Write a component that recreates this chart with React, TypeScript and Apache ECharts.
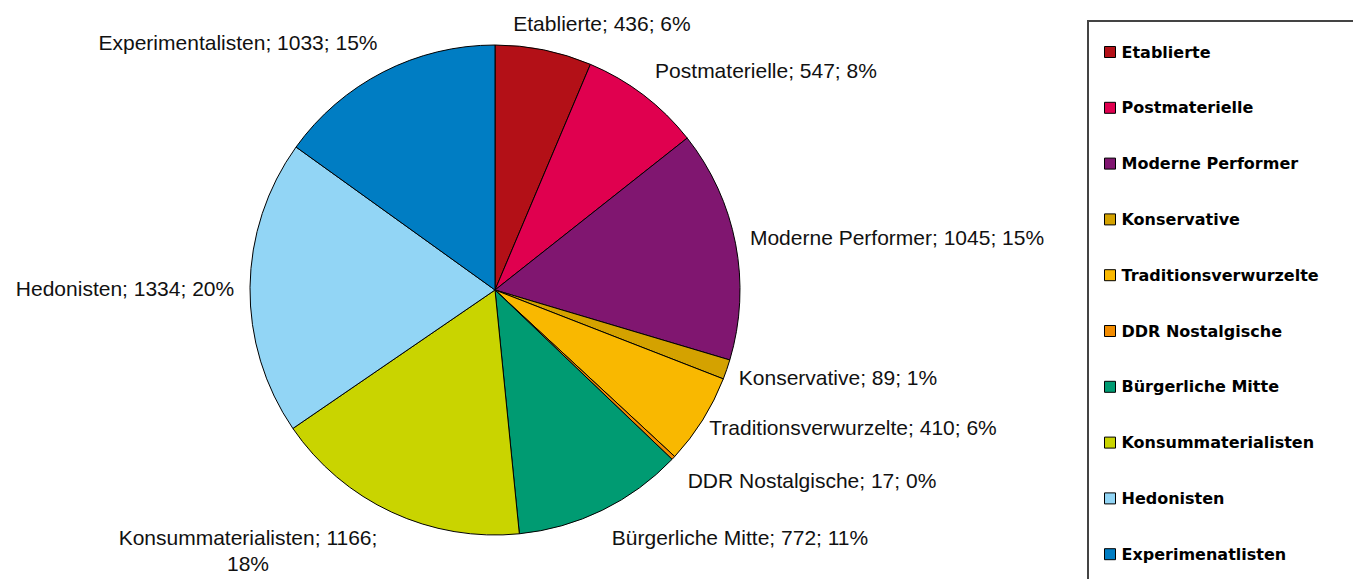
import React, { useEffect, useRef } from "react";
import * as echarts from "echarts";

const CATEGORIES = [
  "Etablierte",
  "Postmaterielle",
  "Moderne Performer",
  "Konservative",
  "Traditionsverwurzelte",
  "DDR Nostalgische",
  "Bürgerliche Mitte",
  "Konsummaterialisten",
  "Hedonisten",
  "Experimentalisten",
];
const LEGEND_NAMES = [
  "Etablierte",
  "Postmaterielle",
  "Moderne Performer",
  "Konservative",
  "Traditionsverwurzelte",
  "DDR Nostalgische",
  "Bürgerliche Mitte",
  "Konsummaterialisten",
  "Hedonisten",
  "Experimenatlisten",
];
const VALUES = [436, 547, 1045, 89, 410, 17, 772, 1166, 1334, 1033];
const PERCENTS = ["6%", "8%", "15%", "1%", "6%", "0%", "11%", "18%", "20%", "15%"];
const COLORS = [
  "#B31017",
  "#E0004F",
  "#801670",
  "#D4A200",
  "#F9B800",
  "#F28C00",
  "#009B72",
  "#C9D400",
  "#92D5F5",
  "#007DC3",
];
// label centre positions (px) and wrapping
const LABEL_CENTERS: number[][] = [
  [602, 23],
  [766, 70],
  [897, 237],
  [838, 377],
  [853, 427],
  [812, 480],
  [740, 537],
  [248, 550],
  [125, 288],
  [238, 42],
];
const LABEL_WRAP = [false, false, false, false, false, false, false, true, false, false];

export default function App() {
  const ref = useRef<HTMLDivElement>(null);
  useEffect(() => {
    if (!ref.current) return;
    const chart = echarts.init(ref.current, undefined, { renderer: "svg" });
    chart.setOption({
      animation: false,
      backgroundColor: "#ffffff",
      legend: {
        orient: "vertical",
        left: 1104,
        top: 44,
        height: 560,
        padding: 0,
        itemWidth: 11,
        itemHeight: 11,
        itemGap: 39.8,
        icon: "rect",
        selectedMode: false,
        itemStyle: { borderColor: "#000", borderWidth: 1 },
        textStyle: {
          fontFamily: "DejaVu Sans",
          fontWeight: "bold",
          fontSize: 16,
          color: "#000",
          padding: [0, 0, 0, 1],
        },
      },
      graphic: [
        {
          type: "rect",
          shape: { x: 1088, y: 21, width: 400, height: 700 },
          style: { fill: "none", stroke: "#444", lineWidth: 2 },
          silent: true,
        },
      ],
      series: [
        {
          type: "pie",
          center: [495, 290],
          radius: 245,
          startAngle: 90,
          clockwise: true,
          avoidLabelOverlap: false,
          itemStyle: { borderColor: "#000", borderWidth: 1 },
          emphasis: { disabled: true },
          label: {
            show: true,
            position: "outside",
            fontFamily: "Liberation Sans, Arial, sans-serif",
            fontSize: 21,
            lineHeight: 26,
            color: "#111",
            formatter: (p: any) =>
              CATEGORIES[p.dataIndex] +
              "; " +
              VALUES[p.dataIndex] +
              ";" +
              (LABEL_WRAP[p.dataIndex] ? "\n" : " ") +
              PERCENTS[p.dataIndex],
          },
          labelLine: { show: false },
          labelLayout: (p: any) => {
            const c = LABEL_CENTERS[p.dataIndex];
            return { x: c[0], y: c[1], align: "center", verticalAlign: "middle" };
          },
          data: VALUES.map((v, i) => ({
            name: LEGEND_NAMES[i],
            value: v,
            itemStyle: { color: COLORS[i] },
          })),
        },
      ],
    });
    return () => chart.dispose();
  }, []);
  return (
    <div
      ref={ref}
      style={{ position: "fixed", left: 0, top: 0, width: 1353, height: 579 }}
    />
  );
}
